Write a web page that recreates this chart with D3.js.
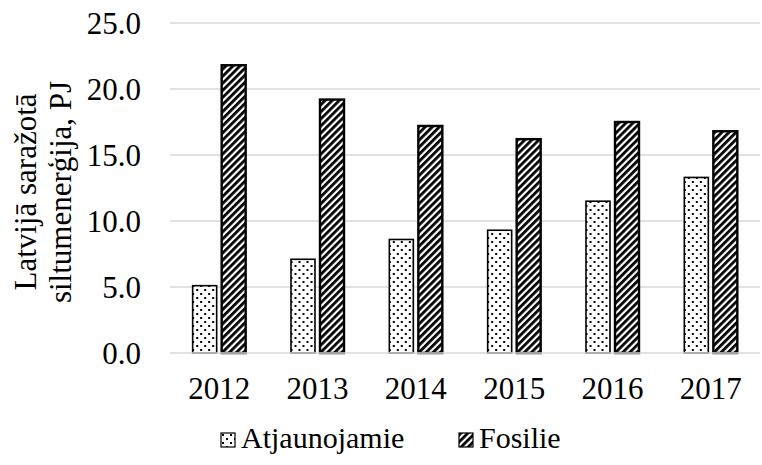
<!DOCTYPE html>
<html lang="lv">
<head>
<meta charset="UTF-8" />
<title>Latvijā saražotā siltumenerģija</title>
<script src="https://cdn.jsdelivr.net/npm/d3@7"></script>
<style>
  html, body { margin: 0; padding: 0; background: #fff; }
  svg { display: block; font-family: "Liberation Serif", "Times New Roman", serif; }
</style>
</head>
<body>
<div id="chart"></div>
<script>
const years = ["2012", "2013", "2014", "2015", "2016", "2017"];
const seriesNames = ["Atjaunojamie", "Fosilie"];
const atjaunojamie = [5.1, 7.1, 8.6, 9.3, 11.5, 13.3];
const fosilie = [21.8, 19.2, 17.2, 16.2, 17.5, 16.8];
const yTicks = [0, 5, 10, 15, 20, 25];

const W = 762, H = 465;
const m = { left: 170, right: 2, top: 23, bottom: 112 };
const fs = 31;

const svg = d3.select("#chart").append("svg")
  .attr("width", W).attr("height", H);

// fill patterns
const defs = svg.append("defs");
const dots = defs.append("pattern")
  .attr("id", "dots").attr("patternUnits", "userSpaceOnUse")
  .attr("width", 8).attr("height", 8);
dots.append("rect").attr("width", 8).attr("height", 8).attr("fill", "#fff");
dots.append("rect").attr("x", 1).attr("y", 1).attr("width", 2).attr("height", 2).attr("fill", "#000");
dots.append("rect").attr("x", 5).attr("y", 5).attr("width", 2).attr("height", 2).attr("fill", "#000");

const stripes = defs.append("pattern")
  .attr("id", "stripes").attr("patternUnits", "userSpaceOnUse")
  .attr("width", 5).attr("height", 5)
  .attr("patternTransform", "rotate(45)");
stripes.append("rect").attr("width", 5).attr("height", 5).attr("fill", "#fff");
stripes.append("rect").attr("width", 2.8).attr("height", 5).attr("fill", "#000");

const fills = ["url(#dots)", "url(#stripes)"];

const x = d3.scaleBand().domain(years).range([m.left, W - m.right]);
const y = d3.scaleLinear().domain([0, 25]).range([H - m.bottom, m.top]);
const barW = 24, gap = 5;
const x1 = d3.scaleOrdinal().domain(seriesNames)
  .range([-barW - gap / 2, gap / 2]);

// gridlines
svg.append("g")
  .selectAll("line").data(yTicks.filter(d => d > 0)).join("line")
  .attr("x1", m.left).attr("x2", W - m.right)
  .attr("y1", d => y(d)).attr("y2", d => y(d))
  .attr("stroke", "#d9d9d9").attr("stroke-width", 1.3);

// y tick labels
svg.append("g")
  .selectAll("text").data(yTicks).join("text")
  .attr("x", 141).attr("y", d => y(d))
  .attr("dy", "0.35em").attr("text-anchor", "end")
  .attr("font-size", fs).attr("fill", "#000")
  .text(d => d3.format(".1f")(d));

// bars
const data = years.map((yr, i) => ({ yr, vals: [atjaunojamie[i], fosilie[i]] }));
const groups = svg.append("g").selectAll("g").data(data).join("g")
  .attr("transform", d => `translate(${x(d.yr) + x.bandwidth() / 2},0)`);
groups.selectAll("rect")
  .data(d => d.vals.map((v, k) => ({ v, k })))
  .join("rect")
  .attr("x", d => x1(seriesNames[d.k]))
  .attr("y", d => y(d.v))
  .attr("width", barW)
  .attr("height", d => y(0) - y(d.v))
  .attr("fill", d => fills[d.k])
  .attr("stroke", "#000").attr("stroke-width", d => d.k ? 2.4 : 1.6);

// x axis line
svg.append("line")
  .attr("x1", m.left).attr("x2", W - m.right)
  .attr("y1", y(0)).attr("y2", y(0))
  .attr("stroke", "#d9d9d9").attr("stroke-width", 1.3);

// x labels
svg.append("g").selectAll("text").data(years).join("text")
  .attr("x", d => x(d) + x.bandwidth() / 2)
  .attr("y", 399).attr("text-anchor", "middle")
  .attr("font-size", fs).attr("fill", "#000")
  .text(d => d);

// y axis title
const yt = svg.append("text")
  .attr("transform", `translate(0,192) rotate(-90)`)
  .attr("text-anchor", "middle").attr("font-size", fs).attr("fill", "#000");
yt.append("tspan").attr("x", 0).attr("y", 36).text("Latvijā saražotā");
yt.append("tspan").attr("x", 0).attr("y", 71).text("siltumenerģija, PJ");

// legend
const legendX = [221, 459];
const lg = svg.append("g").selectAll("g").data(seriesNames).join("g")
  .attr("transform", (d, i) => `translate(${legendX[i]},433)`);
lg.append("rect")
  .attr("width", 14).attr("height", 14)
  .attr("fill", (d, i) => fills[i])
  .attr("stroke", "#000").attr("stroke-width", 1.2);
lg.append("text")
  .attr("x", 20).attr("y", 15)
  .attr("font-size", 30).attr("fill", "#000")
  .text(d => d);
</script>
</body>
</html>
